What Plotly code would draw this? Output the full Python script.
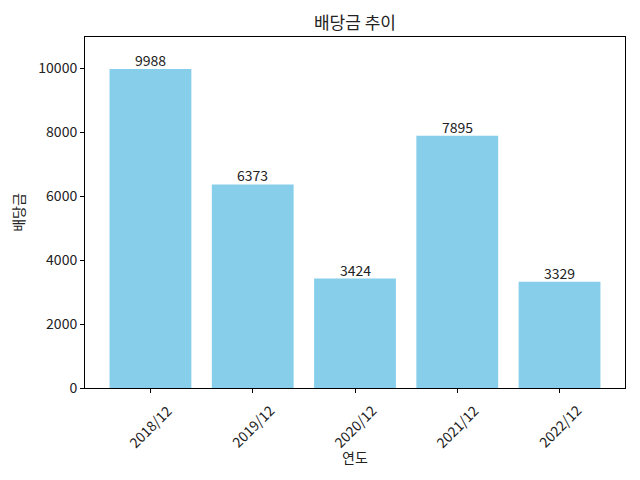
import plotly.graph_objects as go

categories = ["2018/12", "2019/12", "2020/12", "2021/12", "2022/12"]
values = [9988, 6373, 3424, 7895, 3329]
ytick_vals = [0, 2000, 4000, 6000, 8000, 10000]

FONT = "Noto Sans CJK KR, Noto Sans, DejaVu Sans"
xs = list(range(len(categories)))

fig = go.Figure()
fig.add_trace(go.Bar(
    x=xs, y=values, width=0.8,
    marker=dict(color="#87CEEB", line=dict(width=0)),
))
for x, v in zip(xs, values):
    fig.add_annotation(x=x, y=v, text=str(v), showarrow=False,
                       xanchor="center", yanchor="bottom", yshift=-3,
                       font=dict(family=FONT, size=14, color="#222222"))
# rotated category labels centred under their ticks
for x, c in zip(xs, categories):
    fig.add_annotation(x=x, xref="x", y=0, yref="paper", text=c,
                       showarrow=False, textangle=-45,
                       xanchor="center", yanchor="top", yshift=-10,
                       font=dict(family=FONT, size=14, color="#222222"))
fig.add_annotation(x=0.5, xref="paper", y=0, yref="paper", text="연도",
                   showarrow=False, xanchor="center", yanchor="middle",
                   yshift=-69, font=dict(family=FONT, size=14, color="#222222"))

# page body has an 8px offset; compensate in size/margins
fig.update_layout(
    width=632, height=472,
    margin=dict(l=77, r=15, t=29, b=92, autoexpand=False),
    paper_bgcolor="white", plot_bgcolor="white",
    showlegend=False,
    font=dict(family=FONT, size=14, color="#222222"),
    title=dict(text="배당금 추이", x=0.5, xref="paper", xanchor="center",
               y=1, yref="container", yanchor="top", pad=dict(t=9),
               font=dict(family=FONT, size=17, color="#222222")),
)
fig.update_xaxes(
    range=[-0.64, 4.64], tickmode="array", tickvals=xs, showticklabels=False,
    ticks="outside", ticklen=4, tickcolor="black",
    showline=True, linecolor="black", linewidth=1, mirror=True,
    showgrid=False, zeroline=False, automargin=False,
)
fig.update_yaxes(
    range=[0, 10987], tickmode="array", tickvals=ytick_vals,
    ticktext=[str(v) for v in ytick_vals],
    ticks="outside", ticklen=4, tickcolor="black",
    showline=True, linecolor="black", linewidth=1, mirror=True,
    showgrid=False, zeroline=False, automargin=False,
    title=dict(text="배당금", font=dict(family=FONT, size=14), standoff=12),
)

fig.write_html("out.html")
